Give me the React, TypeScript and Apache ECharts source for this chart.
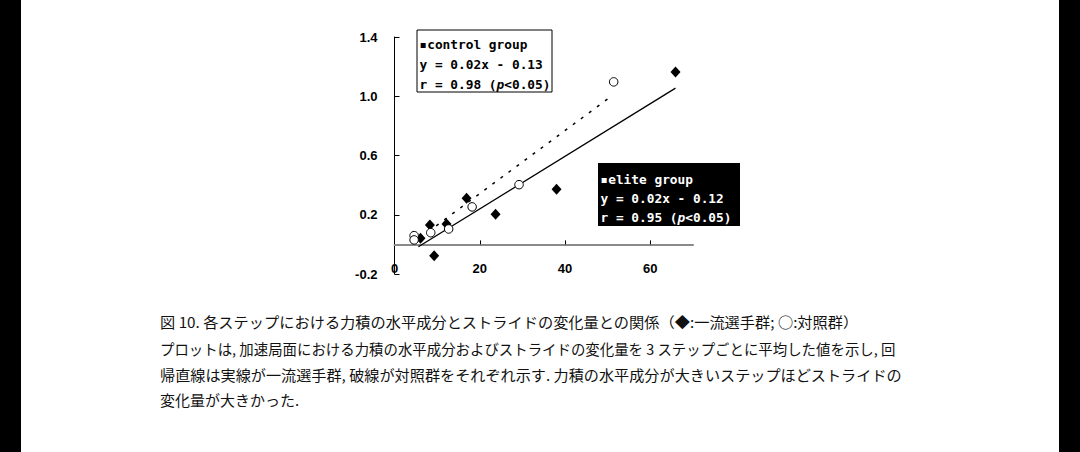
import React, { useEffect, useRef } from "react";
import * as echarts from "echarts";

// Data
const eliteX = [65.9, 38.0, 23.7, 16.9, 12.2, 8.3, 9.3, 6.1];
const eliteY = [1.163, 0.372, 0.203, 0.311, 0.138, 0.131, -0.076, 0.041];
const controlX = [51.4, 29.2, 18.2, 12.7, 8.5, 4.6, 4.6];
const controlY = [1.097, 0.403, 0.253, 0.104, 0.079, 0.059, 0.03];
// regression line end points
const eliteFitX = [5.6, 65.9];
const eliteFitY = [-0.016, 1.055];
const controlFitX = [6.0, 51.0];
const controlFitY = [0.045, 1.003];
const xTickLabels = [0, 20, 40, 60];

const controlLines = ["▪control group", "y = 0.02x - 0.13", "r = 0.98 ("];
const eliteLines = ["▪elite group", "y = 0.02x - 0.12", "r = 0.95 ("];
const pValueTail = "<0.05)";

const captionLines = [
  "図 10. 各ステップにおける力積の水平成分とストライドの変化量との関係（◆:一流選手群; ○:対照群）",
  "プロットは, 加速局面における力積の水平成分およびストライドの変化量を 3 ステップごとに平均した値を示し, 回",
  "帰直線は実線が一流選手群, 破線が対照群をそれぞれ示す. 力積の水平成分が大きいステップほどストライドの",
  "変化量が大きかった.",
];

const pair = (xs: number[], ys: number[]) => xs.map((x, i) => [x, ys[i]]);

const MONO = '"DejaVu Sans Mono"';
const FS = 12.8;
const CW = FS * 0.602;

function boxTexts(lines: string[], x0: number, ys: number[], fill: string) {
  const els: any[] = [];
  const mk = (text: string, x: number, y: number, italic = false) => ({
    type: "text",
    x,
    y,
    style: {
      text,
      font: `${italic ? "italic " : ""}bold ${FS}px ${MONO}`,
      fill,
      textAlign: "left",
      align: "left",
      textVerticalAlign: "middle",
      verticalAlign: "middle",
    },
  });
  lines.forEach((t, i) => els.push(mk(t, x0, ys[i])));
  const base = lines[2].length;
  els.push(mk("p", x0 + base * CW, ys[2], true));
  els.push(mk(pValueTail, x0 + (base + 1) * CW, ys[2]));
  return els;
}

export default function App() {
  const ref = useRef<HTMLDivElement>(null);
  useEffect(() => {
    if (!ref.current) return;
    const chart = echarts.init(ref.current, undefined, { renderer: "svg" });
    const axisFont = { fontFamily: '"Liberation Sans", Arial, sans-serif', fontWeight: "bold" as const, fontSize: 13, color: "#000" };
    const capY = [322, 348.5, 375, 400];
    const capScale = [1.05, 0.995, 1.045, 1.035];
    chart.setOption({
      animation: false,
      backgroundColor: "#fff",
      grid: { left: 394.5, top: 37, width: 298.5, height: 237, containLabel: false },
      xAxis: {
        type: "value",
        min: 0,
        max: 70,
        interval: 20,
        axisLine: { show: true, onZero: true, lineStyle: { color: "#8a8a8a", width: 2 } },
        axisTick: { show: true, inside: true, length: 4, lineStyle: { color: "#000", width: 1 }, customValues: [20, 40, 60] },
        axisLabel: { ...axisFont, margin: -12.5, customValues: xTickLabels },
        splitLine: { show: false },
      },
      yAxis: {
        type: "value",
        min: -0.2,
        max: 1.4,
        interval: 0.4,
        axisLine: { show: true, onZero: false, lineStyle: { color: "#000", width: 1 } },
        axisTick: { show: true, inside: true, length: 5, lineStyle: { color: "#000", width: 1 } },
        axisLabel: { ...axisFont, margin: 17, formatter: (v: number) => v.toFixed(1) },
        splitLine: { show: false },
      },
      series: [
        {
          type: "line",
          data: pair(eliteFitX, eliteFitY),
          showSymbol: false,
          lineStyle: { color: "#000", width: 1.3, type: "solid" },
          z: 2,
        },
        {
          type: "line",
          data: pair(controlFitX, controlFitY),
          showSymbol: false,
          lineStyle: { color: "#000", width: 1.5, type: [3, 7] },
          z: 2,
        },
        {
          type: "scatter",
          data: pair(eliteX, eliteY),
          symbol: "diamond",
          symbolSize: [10, 11],
          itemStyle: { color: "#000", opacity: 1 },
          z: 3,
        },
        {
          type: "scatter",
          data: pair(controlX, controlY),
          symbol: "circle",
          symbolSize: 8.5,
          itemStyle: { color: "#fff", borderColor: "#000", borderWidth: 1, opacity: 1 },
          z: 4,
        },
      ],
      graphic: [
        { type: "rect", shape: { x: 0, y: 0, width: 21, height: 452 }, style: { fill: "#000" } },
        { type: "rect", shape: { x: 1059, y: 0, width: 21, height: 452 }, style: { fill: "#000" } },
        { type: "rect", shape: { x: 417, y: 30, width: 135, height: 62 }, style: { fill: "#fff", stroke: "#000", lineWidth: 1 } },
        ...boxTexts(controlLines, 419.5, [44.5, 64, 84], "#000"),
        { type: "rect", shape: { x: 598, y: 163, width: 142, height: 63 }, style: { fill: "#000" } },
        ...boxTexts(eliteLines, 600.5, [179, 198.5, 217.5], "#fff"),
        ...captionLines.map((t, i) => ({
          type: "text",
          x: 160,
          y: capY[i],
          scaleX: capScale[i],
          style: {
            text: t,
            font: '14.5px "Noto Sans CJK JP"',
            fill: "#111",
            textAlign: "left",
            align: "left",
            textVerticalAlign: "middle",
            verticalAlign: "middle",
          },
        })),
      ],
    });
    return () => chart.dispose();
  }, []);
  return <div ref={ref} style={{ position: "fixed", left: 0, top: 0, width: 1080, height: 452 }} />;
}
